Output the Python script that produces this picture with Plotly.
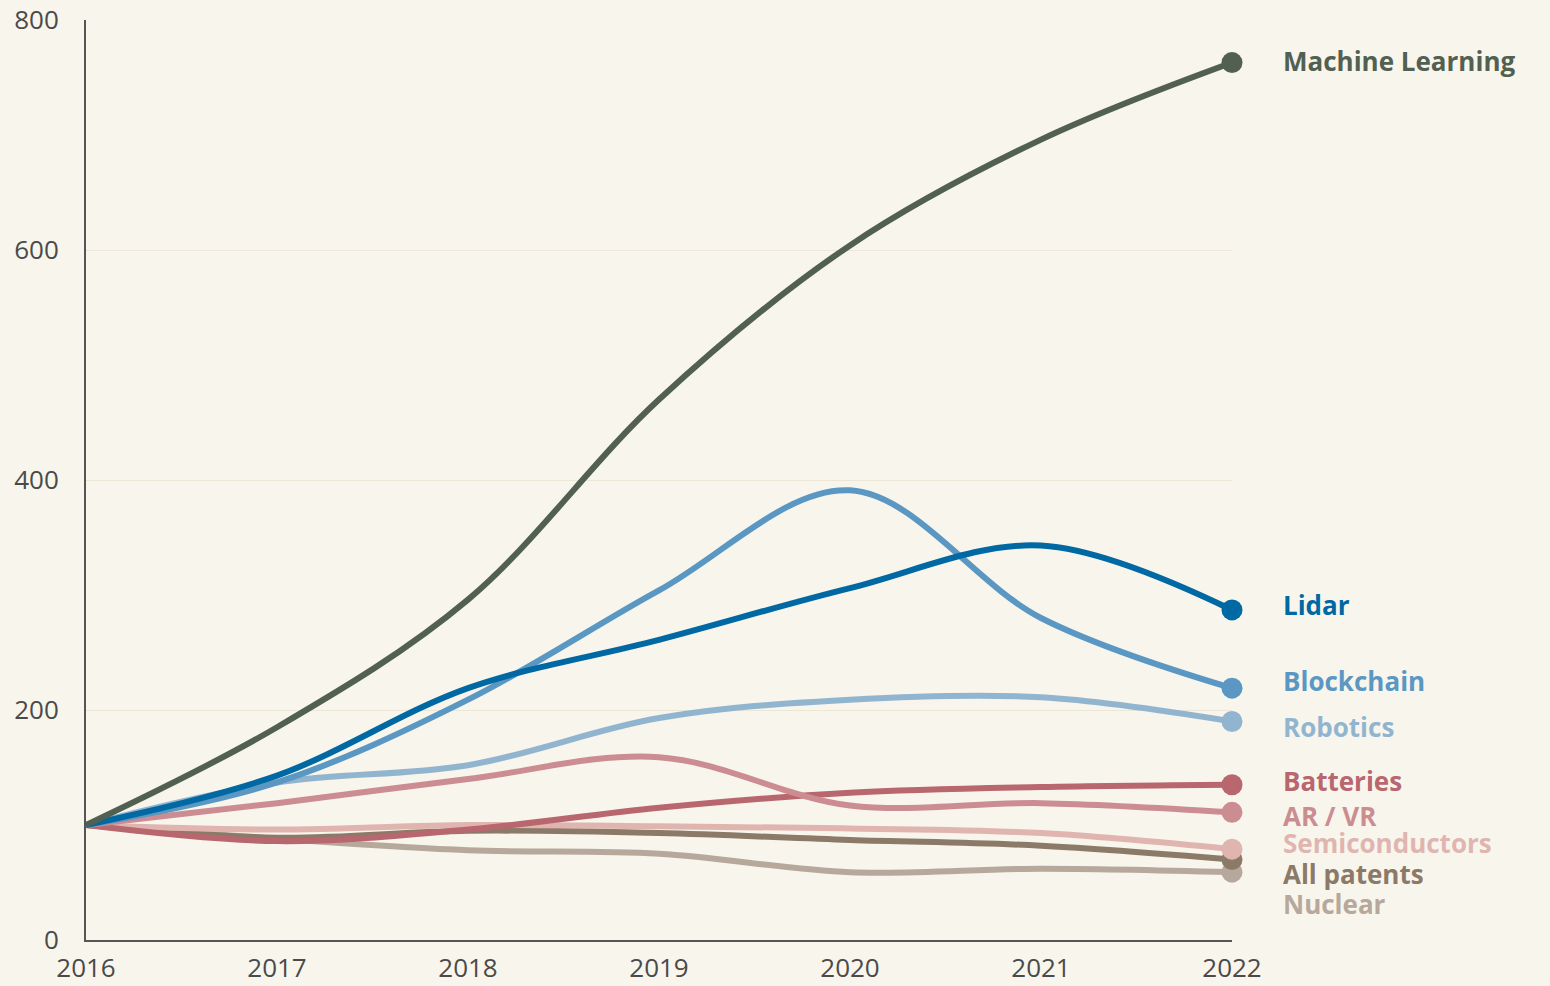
import plotly.graph_objects as go

years = [2016, 2017, 2018, 2019, 2020, 2021, 2022]

machine_learning = [100, 185, 296, 470, 604, 696, 763]
lidar = [100, 143, 219, 261, 306, 343, 287]
blockchain = [100, 137, 209, 304, 391, 280, 219]
robotics = [100, 137, 152, 193, 209, 211, 190]
batteries = [100, 86, 96, 115, 128, 133, 135]
ar_vr = [100, 119, 140, 159, 117, 119, 111]
semiconductors = [100, 96, 100, 99, 97, 93, 79]
all_patents = [100, 89, 95, 93, 87, 82, 70]
nuclear = [100, 88, 78, 75, 59, 62, 59]

# name, values, colour, label pixel shift
series = [
    ("Nuclear", nuclear, "#b6a89b", -32),
    ("All patents", all_patents, "#8c7a68", -14),
    ("Semiconductors", semiconductors, "#e0b5b0", 6),
    ("Batteries", batteries, "#b9676e", 4),
    ("AR / VR", ar_vr, "#cb8d91", -4),
    ("Robotics", robotics, "#92b5cf", -5),
    ("Blockchain", blockchain, "#5b97c3", 7),
    ("Lidar", lidar, "#0068a3", 5),
    ("Machine Learning", machine_learning, "#526052", 2),
]

fig = go.Figure()
for name, vals, col, shift in series:
    fig.add_trace(go.Scatter(
        x=years, y=vals, mode="lines", name=name,
        line=dict(color=col, width=6, shape="spline", smoothing=1.0),
        cliponaxis=False, hoverinfo="skip",
    ))
    fig.add_trace(go.Scatter(
        x=[years[-1]], y=[vals[-1]], mode="markers",
        marker=dict(color=col, size=21), cliponaxis=False, hoverinfo="skip",
    ))
    fig.add_annotation(
        x=years[-1], y=vals[-1], text="<b>%s</b>" % name, showarrow=False,
        xanchor="left", yanchor="middle", xshift=49, yshift=shift,
        font=dict(color=col, size=26, family="Open Sans"),
    )

fig.update_layout(
    width=1550, height=986,
    paper_bgcolor="#f8f5ec", plot_bgcolor="#f8f5ec",
    showlegend=False,
    margin=dict(l=86, r=318, t=20, b=46),
    font=dict(family="Open Sans", size=26, color="#4a4a4a"),
    xaxis=dict(
        range=[2016, 2022], tickvals=years, showgrid=False,
        showline=True, linecolor="#555555", linewidth=2, zeroline=False,
        ticks="", ticklabelstandoff=4, automargin=False,
    ),
    yaxis=dict(
        range=[0, 800], tickvals=[0, 200, 400, 600, 800],
        showgrid=True, gridcolor="#ebe6d6", gridwidth=1,
        showline=True, linecolor="#555555", linewidth=2, zeroline=False,
        ticks="", ticklabelstandoff=20, automargin=False,
    ),
)

fig.write_html("out.html",
               config={"displayModeBar": False},
               post_script="document.body.style.margin='0';"
                           "document.body.style.background='#f8f5ec';")
